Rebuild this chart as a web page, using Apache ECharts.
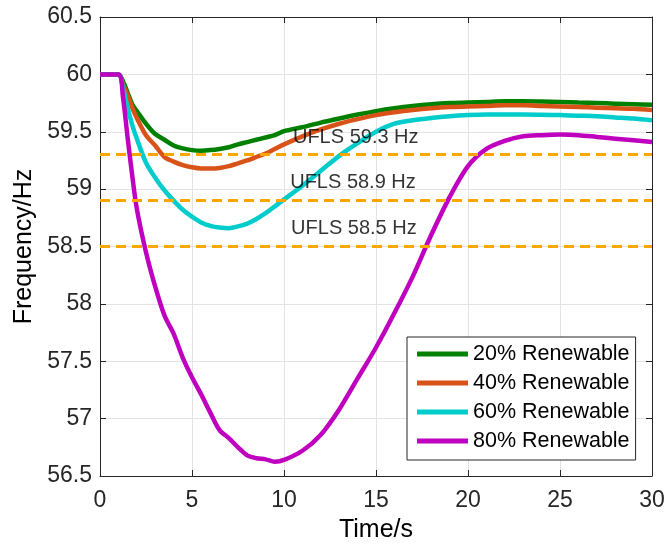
<!DOCTYPE html>
<html>
<head>
<meta charset="utf-8">
<script src="https://cdn.jsdelivr.net/npm/echarts@6/dist/echarts.min.js"></script>
<style>
    html, body { margin: 0; padding: 0; background: #fff; }
    #chart { width: 666px; height: 547px; }
</style>
</head>
<body>
<div id="chart"></div>
<script>
// time axis (s)
const time = [0, 1, 1.25, 1.5, 1.75, 2, 2.5, 3, 3.5, 4, 4.5, 5, 5.5, 6, 6.5, 7, 7.5, 8, 8.5, 9, 9.5, 10,
    11, 12, 13, 14, 15, 16, 17, 18, 19, 20, 21, 22, 23, 24, 25, 26, 27, 28, 29, 30];

// frequency (Hz) for each renewable share
const ren20 = [60, 60, 59.94, 59.84, 59.74, 59.68, 59.57, 59.48, 59.43, 59.38, 59.355, 59.34, 59.335, 59.34, 59.35, 59.365, 59.39, 59.41, 59.43, 59.45, 59.47, 59.505,
    59.54, 59.58, 59.615, 59.65, 59.68, 59.705, 59.725, 59.74, 59.75, 59.755, 59.76, 59.765, 59.765, 59.763, 59.76, 59.755, 59.75, 59.745, 59.74, 59.735];
const ren40 = [60, 60, 59.91, 59.82, 59.71, 59.62, 59.47, 59.38, 59.28, 59.24, 59.21, 59.19, 59.18, 59.18, 59.185, 59.2, 59.225, 59.25, 59.28, 59.31, 59.35, 59.39,
    59.46, 59.52, 59.57, 59.61, 59.645, 59.67, 59.69, 59.705, 59.715, 59.72, 59.725, 59.73, 59.73, 59.725, 59.72, 59.715, 59.71, 59.705, 59.7, 59.69];
const ren60 = [60, 60, 59.88, 59.71, 59.56, 59.44, 59.23, 59.1, 58.99, 58.9, 58.82, 58.76, 58.71, 58.68, 58.665, 58.66, 58.675, 58.7, 58.74, 58.79, 58.85, 58.91,
    59.03, 59.16, 59.29, 59.4, 59.5, 59.57, 59.6, 59.62, 59.635, 59.645, 59.65, 59.65, 59.65, 59.648, 59.645, 59.64, 59.635, 59.625, 59.615, 59.6];
const ren80 = [60, 60, 59.8, 59.45, 59.12, 58.83, 58.45, 58.15, 57.9, 57.74, 57.53, 57.36, 57.21, 57.05, 56.9, 56.83, 56.75, 56.68, 56.655, 56.645, 56.625, 56.64,
    56.72, 56.86, 57.08, 57.35, 57.62, 57.92, 58.24, 58.6, 58.93, 59.2, 59.35, 59.42, 59.46, 59.47, 59.475, 59.47, 59.455, 59.44, 59.425, 59.41];

const seriesNames = ['20% Renewable', '40% Renewable', '60% Renewable', '80% Renewable'];
const ufls = [59.3, 58.9, 58.5];
const xTicks = [0, 5, 10, 15, 20, 25, 30];
const yTicks = [56.5, 57, 57.5, 58, 58.5, 59, 59.5, 60, 60.5];

const font = "'Liberation Sans', Arial, sans-serif";
const colors = ['#008000', '#D95319', '#00CCCC', '#BF00BF'];

function pairs(ys) {
    return time.map((t, i) => [t, ys[i]]);
}

let mycharts = echarts.init(document.getElementById('chart'));

const axisColor = '#262626';
let baseX = {
    type: 'value',
    min: xTicks[0],
    max: xTicks[xTicks.length - 1],
    interval: 5,
    axisLine: { show: true, onZero: false, lineStyle: { color: axisColor, width: 1 } },
    axisTick: { show: true, inside: true, length: 6, lineStyle: { color: axisColor } },
};
let baseY = {
    type: 'value',
    min: yTicks[0],
    max: yTicks[yTicks.length - 1],
    interval: 0.5,
    axisLine: { show: true, onZero: false, lineStyle: { color: axisColor, width: 1 } },
    axisTick: { show: true, inside: true, length: 6, lineStyle: { color: axisColor } },
};

let lines = [ren20, ren40, ren60, ren80].map((ys, i) => ({
    name: seriesNames[i],
    type: 'line',
    data: pairs(ys),
    showSymbol: false,
    symbol: 'none',
    smooth: 0.3,
    lineStyle: { color: colors[i], width: 4.5 },
    itemStyle: { color: colors[i] },
    z: 3
}));

// label anchors for the UFLS texts (time, freq)
const labelPos = [[13.9, 59.446], [13.75, 59.054], [13.8, 58.653]];

let option = {
    animation: false,
    backgroundColor: '#fff',
    grid: { left: 100, right: 14, top: 17, bottom: 71, containLabel: false, outerBoundsMode: 'none' },
    xAxis: [
        Object.assign({}, baseX, {
            position: 'bottom',
            name: 'Time/s',
            nameLocation: 'middle',
            nameGap: 42,
            nameTextStyle: { fontFamily: font, fontSize: 25, color: '#000' },
            axisLabel: { show: true, fontFamily: font, fontSize: 23, color: axisColor, margin: 13, showMinLabel: true, showMaxLabel: true },
            splitLine: { show: true, lineStyle: { color: '#e3e3e3', width: 1 } }
        }),
        Object.assign({}, baseX, {
            position: 'top',
            axisLabel: { show: false },
            splitLine: { show: false }
        })
    ],
    yAxis: [
        Object.assign({}, baseY, {
            position: 'left',
            name: 'Frequency/Hz',
            nameLocation: 'middle',
            nameGap: 55,
            nameTextStyle: { fontFamily: font, fontSize: 25, color: '#000' },
            axisLabel: { show: true, fontFamily: font, fontSize: 23, color: axisColor, margin: 8, showMinLabel: true, showMaxLabel: true },
            splitLine: { show: true, lineStyle: { color: '#e3e3e3', width: 1 } }
        }),
        Object.assign({}, baseY, {
            position: 'right',
            axisLabel: { show: false },
            splitLine: { show: false }
        })
    ],
    legend: {
        data: seriesNames,
        orient: 'vertical',
        left: 407,
        top: 337,
        icon: 'rect',
        itemWidth: 51,
        itemHeight: 5,
        itemGap: 7,
        padding: [6, 6, 8, 10],
        borderColor: axisColor,
        borderWidth: 1,
        borderRadius: 0,
        backgroundColor: '#fff',
        textStyle: { fontFamily: font, fontSize: 21.5, color: '#000' }
    },
    series: lines.concat([{
        name: 'UFLS',
        type: 'scatter',
        symbolSize: 0,
        data: ufls.map((f, i) => ({ value: labelPos[i], name: 'UFLS ' + f + ' Hz' })),
        label: {
            show: true,
            position: 'inside',
            formatter: '{b}',
            fontFamily: font,
            fontSize: 20,
            color: '#000'
        },
        markLine: {
            silent: true,
            symbol: 'none',
            label: { show: false },
            lineStyle: { color: '#FFA500', width: 3, type: [10, 6] },
            data: ufls.map(f => ({ yAxis: f }))
        },
        z: 4
    }])
};

mycharts.setOption(option);
window.addEventListener('resize', function () {
    mycharts.resize();
});
</script>
</body>
</html>
